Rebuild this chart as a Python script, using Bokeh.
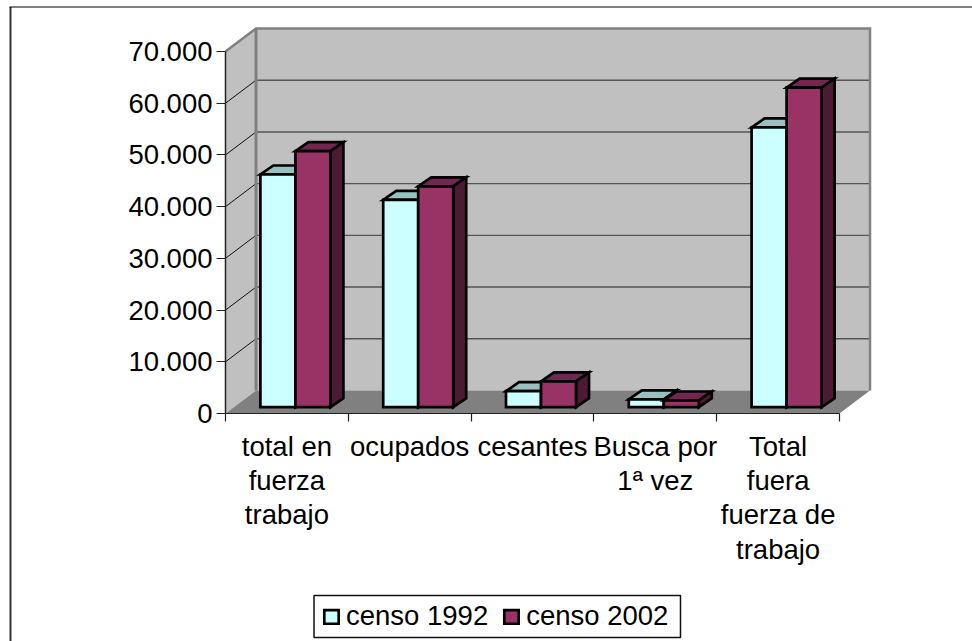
from bokeh.plotting import figure
from bokeh.models import (LinearAxis, FixedTicker, Range1d, Legend, LegendItem)
from bokeh.core.properties import value
from bokeh.embed import file_html
from bokeh.resources import INLINE

categories = ["total en\nfuerza\ntrabajo", "ocupados", "cesantes", "Busca por\n1ª vez", "Total\nfuera\nfuerza de\ntrabajo"]
censo_1992 = [45000, 40100, 3100, 1500, 54100]
censo_2002 = [49500, 42700, 5000, 1300, 61800]
series_names = ["censo 1992", "censo 2002"]
y_ticks = [0, 10000, 20000, 30000, 40000, 50000, 60000, 70000]
y_labels = ["0", "10.000", "20.000", "30.000", "40.000", "50.000", "60.000", "70.000"]

W, H = 972, 641
FONT = "Liberation Sans"
FS = "27.5px"

# layout of the front plane of the 3D box, in page pixels
X0, CAT_W = 225.0, 122.8
Y0, PX_PER_UNIT = 413.0, 362.0 / 70000
n = len(categories)
to_x = lambda px: (px - X0) / CAT_W
to_y = lambda py: (Y0 - py) / PX_PER_UNIT
DX, DY = 30.5 / CAT_W, 23 / PX_PER_UNIT          # depth of the box
BAR_W = 35.0 / CAT_W                              # front width of a bar
BAR_DX, BAR_DY = 13.0 / CAT_W, 9.0 / PX_PER_UNIT  # depth of a bar
OFF_X, OFF_Y = 8.5 / CAT_W, 6.3 / PX_PER_UNIT     # bars stand mid-depth
Y_MAX = y_ticks[-1]

p = figure(width=W, height=H, output_backend="svg", toolbar_location=None,
           x_range=Range1d(to_x(0), to_x(W)), y_range=Range1d(to_y(H), to_y(0)),
           x_axis_location=None, y_axis_location=None, min_border=0,
           background_fill_color="white", border_fill_color="white",
           outline_line_color=None)
p.grid.visible = False

WALL, FLOOR, EDGE = "#C0C0C0", "#808080", "#808080"

# outer chart frame
p.line([to_x(10), to_x(10)], [to_y(H), to_y(6.5)], line_color="#333333", line_width=2)
p.line([to_x(9), to_x(W)], [to_y(6.5), to_y(6.5)], line_color="black", line_width=1.2)

# walls and floor
p.patch([0, 0, DX, DX], [0, Y_MAX, Y_MAX + DY, DY], fill_color=WALL, line_color=None)
p.patch([DX, DX, n + DX, n + DX], [DY, Y_MAX + DY, Y_MAX + DY, DY], fill_color=WALL, line_color=None)
p.patch([0, n, n + DX, DX], [0, 0, DY, DY], fill_color=FLOOR, line_color=None)

# gridlines on both walls
grid = [t for t in y_ticks[1:-1]]
p.segment([DX] * len(grid), [t + DY for t in grid], [n + DX] * len(grid), [t + DY for t in grid],
          line_color="#555555", line_width=1.4)
p.segment([0] * len(grid), grid, [DX] * len(grid), [t + DY for t in grid],
          line_color="#111111", line_width=1)

# wall edges
p.line([0, DX, n + DX, n + DX], [Y_MAX, Y_MAX + DY, Y_MAX + DY, DY],
       line_color=EDGE, line_width=2.5, line_join="miter")
p.line([DX, DX], [DY, Y_MAX + DY], line_color=EDGE, line_width=3)

# bars
colors = [("#CCFFFF", "#99BFBF", "#668080"), ("#993366", "#732650", "#4D1A33")]
legend_items = []
for s, (vals, (front, top, side)) in enumerate(zip([censo_1992, censo_2002], colors)):
    lefts = [i + 0.5 - BAR_W + s * BAR_W + OFF_X for i in range(n)]
    rights = [l + BAR_W for l in lefts]
    base = OFF_Y
    tops = [v + base for v in vals]
    common = dict(line_color="black", line_width=2.7, line_join="miter")
    p.patches([[l, r, r + BAR_DX, l + BAR_DX] for l, r in zip(lefts, rights)],
              [[t, t, t + BAR_DY, t + BAR_DY] for t in tops], fill_color=top, **common)
    p.patches([[r, r, r + BAR_DX, r + BAR_DX] for r in rights],
              [[base, t, t + BAR_DY, base + BAR_DY] for t in tops], fill_color=side, **common)
    q = p.quad(left=lefts, right=rights, bottom=[base] * n, top=tops, fill_color=front, **common)
    legend_items.append(LegendItem(label=series_names[s], renderers=[q]))

# axes at fixed places inside the frame
yax = LinearAxis(fixed_location=0, bounds=(0, Y_MAX), ticker=FixedTicker(ticks=y_ticks),
                 major_label_overrides=dict(zip(y_ticks, y_labels)),
                 major_tick_in=0, major_tick_out=9, minor_tick_out=0, minor_tick_in=0,
                 major_label_standoff=4, axis_line_color="#222222", axis_line_width=1.5,
                 major_tick_line_color="#222222", major_tick_line_width=1.2,
                 major_label_text_font=FONT, major_label_text_font_size=FS,
                 major_label_text_color="black")
p.add_layout(yax, "left")

xax = LinearAxis(fixed_location=0, bounds=(0, n), ticker=FixedTicker(ticks=list(range(n + 1))),
                 major_label_overrides={i: "" for i in range(n + 1)},
                 major_tick_in=0, major_tick_out=8, minor_tick_out=0, minor_tick_in=0,
                 axis_line_color="#222222", axis_line_width=1.2,
                 major_tick_line_color="#222222", major_tick_line_width=1.2)
p.add_layout(xax, "below")

# category labels
centers = [i + 0.5 for i in range(n)]
p.text(x=centers, y=[to_y(430)] * n, text=categories, text_font=value(FONT), text_font_size=value(FS),
       text_color="black", text_align="center", text_baseline="top", text_line_height=1.11)

# legend box behind the native legend
p.quad(left=[to_x(313.5)], right=[to_x(680)], top=[to_y(595)], bottom=[to_y(637)],
       fill_color="white", line_color="#111111", line_width=1.5)
legend = Legend(items=legend_items, orientation="horizontal", location=(322, H - 632), margin=0,
                padding=0, spacing=14, glyph_width=18, glyph_height=17, label_standoff=6,
                label_text_font=FONT, label_text_font_size=FS, label_text_color="black",
                border_line_color=None, background_fill_alpha=0)
p.add_layout(legend, "center")

open("out.html", "w").write(file_html(p, INLINE))
